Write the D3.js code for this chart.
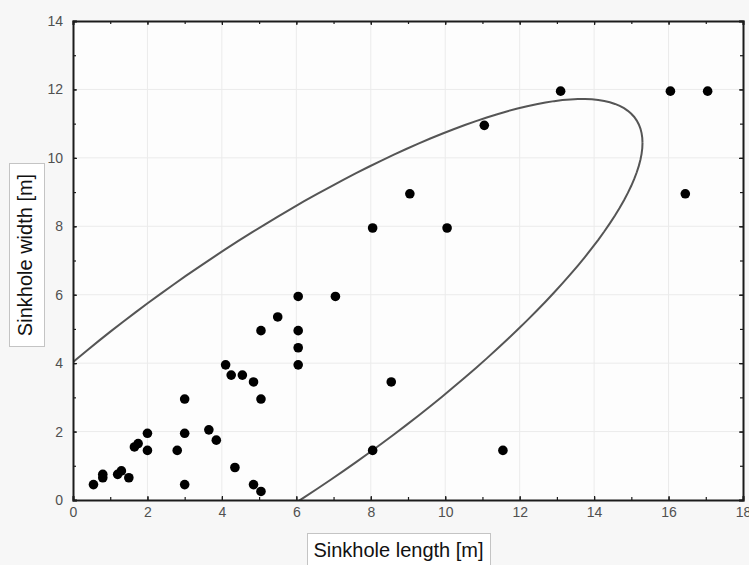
<!DOCTYPE html>
<html>
<head>
<meta charset="utf-8">
<script src="https://cdn.jsdelivr.net/npm/d3@7"></script>
<style>
    body { margin: 0; background: #f7f7f7; }
    svg { display: block; font-family: "Liberation Sans", Arial, sans-serif; }
    .grid line { stroke: #ebebeb; stroke-width: 1; }
    .axis path { stroke: #1c1c1c; stroke-width: 2; }
    .axis line { stroke: #1c1c1c; stroke-width: 1.2; }
</style>
</head>
<body>
<div id="main"></div>
<script>
// sinkhole sizes (metres)
var sinkholeLength = [
    0.55, 0.8, 0.8, 1.2, 1.3, 1.5, 1.65, 1.75, 2, 2,
    2.8, 3, 3, 3, 3.65, 3.85, 4.35, 4.85, 5.05, 5.05,
    4.85, 4.55, 4.25, 4.1, 5.05, 5.5, 6.05, 7.05, 6.05, 6.05,
    6.05, 8.55, 8.05, 11.55, 8.05, 10.05, 9.05, 11.05, 13.1, 16.05,
    17.05, 16.45
];
var sinkholeWidth = [
    0.45, 0.75, 0.65, 0.75, 0.85, 0.65, 1.55, 1.65, 1.95, 1.45,
    1.45, 2.95, 1.95, 0.45, 2.05, 1.75, 0.95, 0.45, 0.25, 2.95,
    3.45, 3.65, 3.65, 3.95, 4.95, 5.35, 5.95, 5.95, 4.95, 4.45,
    3.95, 3.45, 1.45, 1.45, 7.95, 7.95, 8.95, 10.95, 11.95, 11.95,
    11.95, 8.95
];

// confidence ellipse: centre, half extents along x / y, correlation
var ellipseCenter = [5.15, 3.7];
var ellipseHalfX = 10.15;
var ellipseHalfY = 8.02;
var ellipseRho = 0.84;

var xTicks = [0, 2, 4, 6, 8, 10, 12, 14, 16, 18];
var yTicks = [0, 2, 4, 6, 8, 10, 12, 14];
var xLabel = "Sinkhole length [m]";
var yLabel = "Sinkhole width [m]";

var cfg = { width: 749, height: 565, left: 73, right: 743, top: 21, bottom: 500 };

var x = d3.scaleLinear().domain([0, 18]).range([cfg.left, cfg.right]);
var y = d3.scaleLinear().domain([0, 14]).range([cfg.bottom, cfg.top]);

var svg = d3.select("#main").append("svg")
    .attr("width", cfg.width)
    .attr("height", cfg.height);

svg.append("rect")
    .attr("x", cfg.left).attr("y", cfg.top)
    .attr("width", cfg.right - cfg.left).attr("height", cfg.bottom - cfg.top)
    .attr("fill", "#fdfdfd");

svg.append("clipPath").attr("id", "plotClip")
    .append("rect")
    .attr("x", cfg.left).attr("y", cfg.top)
    .attr("width", cfg.right - cfg.left).attr("height", cfg.bottom - cfg.top);

// grid
var grid = svg.append("g").attr("class", "grid");
grid.selectAll(".gx").data(xTicks.slice(1, -1)).enter().append("line")
    .attr("x1", function (d) { return x(d); }).attr("x2", function (d) { return x(d); })
    .attr("y1", cfg.top).attr("y2", cfg.bottom);
grid.selectAll(".gy").data(yTicks.slice(1, -1)).enter().append("line")
    .attr("y1", function (d) { return y(d); }).attr("y2", function (d) { return y(d); })
    .attr("x1", cfg.left).attr("x2", cfg.right);

// ellipse
var ellipse = d3.range(0, 361, 2).map(function (deg) {
    var t = deg * Math.PI / 180;
    return [
        ellipseCenter[0] + ellipseHalfX * Math.cos(t),
        ellipseCenter[1] + ellipseHalfY * (ellipseRho * Math.cos(t) + Math.sqrt(1 - ellipseRho * ellipseRho) * Math.sin(t))
    ];
});
svg.append("path")
    .attr("clip-path", "url(#plotClip)")
    .attr("d", d3.line().x(function (d) { return x(d[0]); }).y(function (d) { return y(d[1]); })(ellipse))
    .attr("fill", "none")
    .attr("stroke", "#555")
    .attr("stroke-width", 2);

// axes, ticks pointing inward
var minorX = d3.range(0, 19), minorY = d3.range(0, 15);
function frame(axisFn, scale, pos, major, minor, labels, pad) {
    var g = svg.append("g").attr("class", "axis").attr("transform", pos);
    g.call(axisFn(scale).tickValues(major).tickSize(-4).tickPadding(pad)
        .tickFormat(labels ? d3.format("d") : ""));
    g.attr("font-family", null).attr("font-size", null);
    g.selectAll("text").style("font-size", "14px").style("fill", "#505050");
    var m = svg.append("g").attr("class", "axis").attr("transform", pos);
    m.call(axisFn(scale).tickValues(minor).tickSize(-3).tickFormat(""));
    m.select(".domain").remove();
}
frame(d3.axisBottom, x, "translate(0," + cfg.bottom + ")", xTicks, minorX, true, 7);
frame(d3.axisTop, x, "translate(0," + cfg.top + ")", xTicks, minorX, false, 0);
frame(d3.axisLeft, y, "translate(" + cfg.left + ",0)", yTicks, minorY, true, 10);
frame(d3.axisRight, y, "translate(" + cfg.right + ",0)", yTicks, minorY, false, 0);

// points
svg.append("g").attr("clip-path", "url(#plotClip)")
    .selectAll("circle")
    .data(sinkholeLength)
    .enter().append("circle")
    .attr("cx", function (d) { return x(d); })
    .attr("cy", function (d, i) { return y(sinkholeWidth[i]); })
    .attr("r", 4.8)
    .attr("fill", "#000");

// axis titles in boxes
svg.append("rect")
    .attr("x", 307.5).attr("y", 533.5).attr("width", 183).attr("height", 40)
    .attr("fill", "#fff").attr("stroke", "#c4c4c4");
svg.append("text")
    .attr("x", 398.5).attr("y", 557)
    .attr("text-anchor", "middle")
    .attr("font-size", 20).attr("fill", "#111")
    .text(xLabel);

svg.append("rect")
    .attr("x", 9.5).attr("y", 163.5).attr("width", 35).attr("height", 183)
    .attr("fill", "#fff").attr("stroke", "#c4c4c4");
svg.append("text")
    .attr("transform", "translate(32,255) rotate(-90)")
    .attr("text-anchor", "middle")
    .attr("font-size", 20).attr("fill", "#111")
    .text(yLabel);
</script>
</body>
</html>
